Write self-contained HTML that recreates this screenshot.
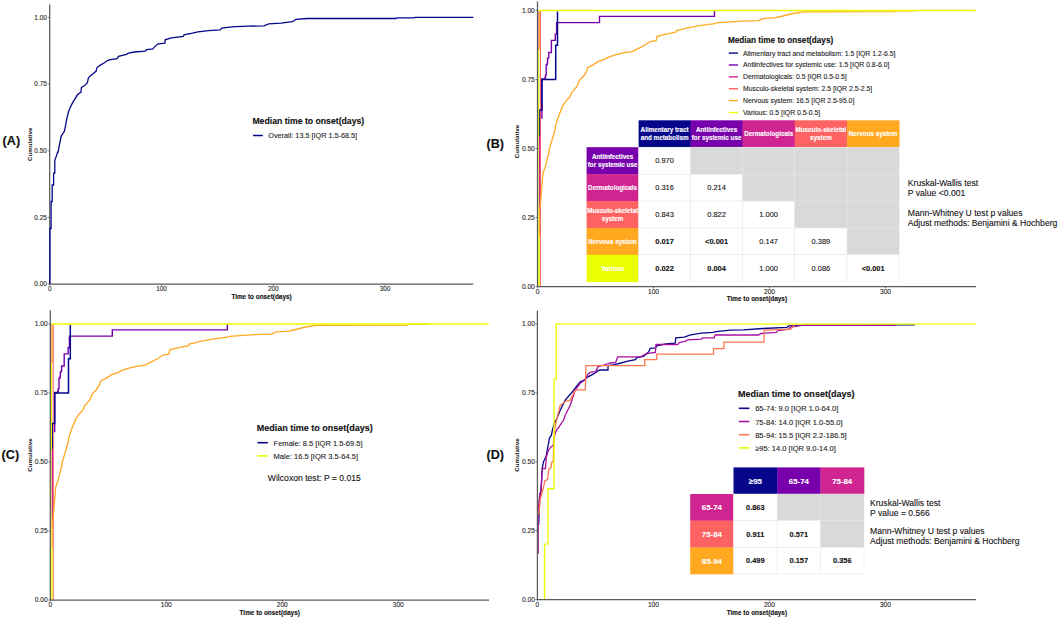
<!DOCTYPE html>
<html><head><meta charset="utf-8"><style>
html,body{margin:0;padding:0;background:#fff;}
svg{display:block;font-family:"Liberation Sans", sans-serif;}
</style></head><body>
<svg width="1059" height="618" viewBox="0 0 1059 618">
<rect width="1059" height="618" fill="#fff"/>
<line x1="49.7" y1="4.5" x2="49.7" y2="284" stroke="#5a5a5a" stroke-width="1.25"/>
<line x1="49.7" y1="284" x2="473.3" y2="284" stroke="#5a5a5a" stroke-width="1.25"/>
<line x1="47.7" y1="284.00" x2="49.7" y2="284.00" stroke="#5a5a5a" stroke-width="0.8"/>
<text x="46.80" y="286.30" font-size="6.4" text-anchor="end" fill="#1e1e1e" stroke="#1e1e1e" stroke-width="0.1">0.00</text>
<line x1="47.7" y1="217.38" x2="49.7" y2="217.38" stroke="#5a5a5a" stroke-width="0.8"/>
<text x="46.80" y="219.68" font-size="6.4" text-anchor="end" fill="#1e1e1e" stroke="#1e1e1e" stroke-width="0.1">0.25</text>
<line x1="47.7" y1="150.75" x2="49.7" y2="150.75" stroke="#5a5a5a" stroke-width="0.8"/>
<text x="46.80" y="153.05" font-size="6.4" text-anchor="end" fill="#1e1e1e" stroke="#1e1e1e" stroke-width="0.1">0.50</text>
<line x1="47.7" y1="84.12" x2="49.7" y2="84.12" stroke="#5a5a5a" stroke-width="0.8"/>
<text x="46.80" y="86.43" font-size="6.4" text-anchor="end" fill="#1e1e1e" stroke="#1e1e1e" stroke-width="0.1">0.75</text>
<line x1="47.7" y1="17.50" x2="49.7" y2="17.50" stroke="#5a5a5a" stroke-width="0.8"/>
<text x="46.80" y="19.80" font-size="6.4" text-anchor="end" fill="#1e1e1e" stroke="#1e1e1e" stroke-width="0.1">1.00</text>
<line x1="49.70" y1="284" x2="49.70" y2="285.8" stroke="#5a5a5a" stroke-width="0.8"/>
<text x="49.70" y="291.40" font-size="6.4" text-anchor="middle" fill="#1e1e1e" stroke="#1e1e1e" stroke-width="0.1">0</text>
<line x1="161.50" y1="284" x2="161.50" y2="285.8" stroke="#5a5a5a" stroke-width="0.8"/>
<text x="161.50" y="291.40" font-size="6.4" text-anchor="middle" fill="#1e1e1e" stroke="#1e1e1e" stroke-width="0.1">100</text>
<line x1="273.30" y1="284" x2="273.30" y2="285.8" stroke="#5a5a5a" stroke-width="0.8"/>
<text x="273.30" y="291.40" font-size="6.4" text-anchor="middle" fill="#1e1e1e" stroke="#1e1e1e" stroke-width="0.1">200</text>
<line x1="385.10" y1="284" x2="385.10" y2="285.8" stroke="#5a5a5a" stroke-width="0.8"/>
<text x="385.10" y="291.40" font-size="6.4" text-anchor="middle" fill="#1e1e1e" stroke="#1e1e1e" stroke-width="0.1">300</text>
<text transform="translate(31.9,144.3) rotate(-90)" font-size="6.2" font-weight="bold" text-anchor="middle" fill="#111">Cumulative</text>
<text x="261.50" y="298.50" font-size="6.4" font-weight="bold" text-anchor="middle" fill="#111" stroke="#111" stroke-width="0.12">Time to onset(days)</text>
<path d="M49.9 284.0 L49.9 228.5 L51.1 228.5 L51.1 201.5 L52.2 201.5 L52.2 185.0 L53.6 185.0 L53.6 173.2 L54.8 173.2 L54.8 160.3 L56.5 155.6 L57.6 152.1 L58.0 152.3 L59.6 144.2 L61.2 136.1 L62.8 133.7 L64.4 131.3 L65.7 124.8 L66.9 118.3 L68.5 111.8 L70.1 107.8 L72.5 102.9 L75.0 98.9 L77.4 94.8 L81.0 92.1 L81.4 87.5 L84.7 85.6 L87.4 82.7 L88.4 77.8 L92.0 74.6 L96.0 71.3 L97.1 67.3 L100.9 64.9 L104.0 63.0 L107.9 60.3 L111.9 59.4 L117.2 58.6 L118.5 56.4 L126.4 54.4 L128.4 53.1 L134.4 52.0 L145.0 51.1 L146.9 49.7 L152.9 48.8 L154.2 47.1 L158.2 43.8 L164.8 43.1 L165.2 39.8 L171.4 37.8 L183.3 36.5 L184.0 34.8 L192.5 33.2 L197.8 31.9 L208.4 30.6 L220.3 29.9 L221.6 28.2 L232.2 26.9 L235.7 26.6 L248.9 26.1 L264.0 25.9 L268.7 23.8 L281.0 23.2 L286.7 22.3 L292.3 21.7 L296.1 19.4 L307.4 18.5 L396.2 18.5 L397.1 17.9 L414.1 17.9 L415.1 17.3 L473.3 17.3" fill="none" stroke="#06068A" stroke-width="1.3" stroke-linejoin="miter" />
<text x="252.40" y="124.20" font-size="8.68" font-weight="bold" text-anchor="start" fill="#111" stroke="#111" stroke-width="0.12">Median time to onset(days)</text>
<line x1="253" y1="135.5" x2="262.8" y2="135.5" stroke="#06068A" stroke-width="1.5"/>
<text x="268.30" y="138.00" font-size="7.28" text-anchor="start" fill="#222" stroke="#222" stroke-width="0.1">Overall: 13.5 [IQR 1.5-68.5]</text>
<text x="2.60" y="145.20" font-size="12.6" font-weight="bold" text-anchor="start" fill="#111" stroke="#111" stroke-width="0.12">(A)</text>
<g>
<path d="M540.4 286.6 L540.4 10.4" fill="none" stroke="#FF6262" stroke-width="1.1" stroke-linejoin="miter" />
<path d="M541.9 118.7 L541.9 79.0 L544.9 79.0 L544.9 77.7 L545.5 77.7 L545.5 75.1 L546.2 75.1 L546.2 64.8 L547.1 64.8 L547.1 63.5 L547.5 63.5 L547.5 58.9 L548.1 58.9 L548.1 57.6 L548.8 57.6 L548.8 52.5 L551.4 52.5 L551.4 40.4 L555.3 40.4 L555.3 34.3 L556.6 34.3 L556.6 22.6 L599.5 22.6 L599.5 16.4 L714.5 16.4 L714.5 10.6" fill="none" stroke="#7800AC" stroke-width="1.4" stroke-linejoin="miter" />
<path d="M539.4 136.0 L539.4 110.0 L541.9 110.0 L541.9 79.4 L555.7 79.4 L555.7 45.3 L557.5 45.3 L557.5 11.5" fill="none" stroke="#06068A" stroke-width="1.5" stroke-linejoin="miter" />
<path d="M539.6 213.0 L539.6 136.0" fill="none" stroke="#D02590" stroke-width="1.5" stroke-linejoin="miter" />
<path d="M539.4 235.0 L539.4 213.0 L541.0 197.0 L541.7 187.9 L542.9 173.7 L545.5 165.9 L548.8 153.0 L549.5 148.6 L552.1 139.7 L554.8 130.8 L556.6 121.9 L559.2 114.8 L562.8 105.9 L566.4 100.5 L569.9 97.0 L571.7 92.5 L577.0 86.3 L579.7 80.1 L583.3 76.5 L586.8 71.2 L587.7 67.6 L593.1 64.9 L598.4 61.4 L603.8 59.6 L609.1 56.9 L616.2 54.6 L623.3 52.8 L632.2 51.6 L637.6 48.9 L645.1 45.0 L650.2 41.5 L656.1 40.7 L657.0 36.4 L663.8 34.7 L675.7 32.2 L676.5 30.5 L687.6 27.9 L701.2 25.4 L714.8 23.7 L716.5 22.8 L742.0 21.1 L759.0 20.6 L762.4 18.6 L776.0 17.7 L782.8 16.0 L793.0 13.5 L803.2 11.8 L895.0 11.6 L895.5 10.9 L914.8 10.9" fill="none" stroke="#FFA820" stroke-width="1.3" stroke-linejoin="miter" />
<path d="M537.9 286.6 L537.9 49.4" fill="none" stroke="#EAFF00" stroke-width="1.3" stroke-linejoin="miter" />
<path d="M539.2 286.6 L539.2 235.0" fill="none" stroke="#EAFF00" stroke-width="1.2" stroke-linejoin="miter" />
<path d="M538.7 136.0 L538.7 49.4" fill="none" stroke="#EAFF00" stroke-width="1.0" stroke-linejoin="miter" />
<path d="M537.9 49.4 L537.9 10.4" fill="none" stroke="#D02590" stroke-width="1.2" stroke-linejoin="miter" />
<path d="M539.3 49.4 L539.3 10.4" fill="none" stroke="#FFA820" stroke-width="1.2" stroke-linejoin="miter" />
<path d="M538.6 10.4 L975.8 10.4" fill="none" stroke="#EAFF00" stroke-width="1.5" stroke-linejoin="miter" />
</g>
<line x1="537.5" y1="1.6" x2="537.5" y2="286.6" stroke="#5a5a5a" stroke-width="1.25"/>
<line x1="537.5" y1="286.6" x2="976" y2="286.6" stroke="#5a5a5a" stroke-width="1.25"/>
<line x1="535.5" y1="286.60" x2="537.5" y2="286.60" stroke="#5a5a5a" stroke-width="0.8"/>
<text x="534.80" y="288.98" font-size="6.6" text-anchor="end" fill="#1e1e1e" stroke="#1e1e1e" stroke-width="0.1">0.00</text>
<line x1="535.5" y1="217.55" x2="537.5" y2="217.55" stroke="#5a5a5a" stroke-width="0.8"/>
<text x="534.80" y="219.93" font-size="6.6" text-anchor="end" fill="#1e1e1e" stroke="#1e1e1e" stroke-width="0.1">0.25</text>
<line x1="535.5" y1="148.50" x2="537.5" y2="148.50" stroke="#5a5a5a" stroke-width="0.8"/>
<text x="534.80" y="150.88" font-size="6.6" text-anchor="end" fill="#1e1e1e" stroke="#1e1e1e" stroke-width="0.1">0.50</text>
<line x1="535.5" y1="79.45" x2="537.5" y2="79.45" stroke="#5a5a5a" stroke-width="0.8"/>
<text x="534.80" y="81.83" font-size="6.6" text-anchor="end" fill="#1e1e1e" stroke="#1e1e1e" stroke-width="0.1">0.75</text>
<line x1="535.5" y1="10.40" x2="537.5" y2="10.40" stroke="#5a5a5a" stroke-width="0.8"/>
<text x="534.80" y="12.78" font-size="6.6" text-anchor="end" fill="#1e1e1e" stroke="#1e1e1e" stroke-width="0.1">1.00</text>
<line x1="537.50" y1="286.6" x2="537.50" y2="288.40000000000003" stroke="#5a5a5a" stroke-width="0.8"/>
<text x="537.50" y="293.80" font-size="6.6" text-anchor="middle" fill="#1e1e1e" stroke="#1e1e1e" stroke-width="0.1">0</text>
<line x1="653.50" y1="286.6" x2="653.50" y2="288.40000000000003" stroke="#5a5a5a" stroke-width="0.8"/>
<text x="653.50" y="293.80" font-size="6.6" text-anchor="middle" fill="#1e1e1e" stroke="#1e1e1e" stroke-width="0.1">100</text>
<line x1="769.50" y1="286.6" x2="769.50" y2="288.40000000000003" stroke="#5a5a5a" stroke-width="0.8"/>
<text x="769.50" y="293.80" font-size="6.6" text-anchor="middle" fill="#1e1e1e" stroke="#1e1e1e" stroke-width="0.1">200</text>
<line x1="885.50" y1="286.6" x2="885.50" y2="288.40000000000003" stroke="#5a5a5a" stroke-width="0.8"/>
<text x="885.50" y="293.80" font-size="6.6" text-anchor="middle" fill="#1e1e1e" stroke="#1e1e1e" stroke-width="0.1">300</text>
<text transform="translate(519.4,141.6) rotate(-90)" font-size="6.2" font-weight="bold" text-anchor="middle" fill="#111">Cumulative</text>
<text x="756.90" y="300.90" font-size="6.4" font-weight="bold" text-anchor="middle" fill="#111" stroke="#111" stroke-width="0.12">Time to onset(days)</text>
<text x="728.00" y="42.60" font-size="8.17" font-weight="bold" text-anchor="start" fill="#111" stroke="#111" stroke-width="0.12">Median time to onset(days)</text>
<line x1="728.8" y1="53.10" x2="738" y2="53.10" stroke="#06068A" stroke-width="1.4"/>
<text x="743.00" y="55.60" font-size="6.86" text-anchor="start" fill="#222" stroke="#222" stroke-width="0.1">Alimentary tract and metabolism: 1.5 [IQR 1.2-6.5]</text>
<line x1="728.8" y1="64.98" x2="738" y2="64.98" stroke="#7800AC" stroke-width="1.4"/>
<text x="743.00" y="67.48" font-size="6.86" text-anchor="start" fill="#222" stroke="#222" stroke-width="0.1">Antiinfectives for systemic use: 1.5 [IQR 0.8-6.0]</text>
<line x1="728.8" y1="76.86" x2="738" y2="76.86" stroke="#D02590" stroke-width="1.4"/>
<text x="743.00" y="79.36" font-size="6.86" text-anchor="start" fill="#222" stroke="#222" stroke-width="0.1">Dermatologicals: 0.5 [IQR 0.5-0.5]</text>
<line x1="728.8" y1="88.74" x2="738" y2="88.74" stroke="#FF6262" stroke-width="1.4"/>
<text x="743.00" y="91.24" font-size="6.86" text-anchor="start" fill="#222" stroke="#222" stroke-width="0.1">Musculo-skeletal system: 2.5 [IQR 2.5-2.5]</text>
<line x1="728.8" y1="100.62" x2="738" y2="100.62" stroke="#FFA820" stroke-width="1.4"/>
<text x="743.00" y="103.12" font-size="6.86" text-anchor="start" fill="#222" stroke="#222" stroke-width="0.1">Nervous system: 16.5 [IQR 2.5-95.0]</text>
<line x1="728.8" y1="112.50" x2="738" y2="112.50" stroke="#EAFF00" stroke-width="1.4"/>
<text x="743.00" y="115.00" font-size="6.86" text-anchor="start" fill="#222" stroke="#222" stroke-width="0.1">Various: 0.5 [IQR 0.5-0.5]</text>
<text x="486.50" y="148.00" font-size="12.6" font-weight="bold" text-anchor="start" fill="#111" stroke="#111" stroke-width="0.12">(B)</text>
<rect x="638.6" y="120.3" width="52.30" height="26.90" fill="#06068A"/>
<text x="664.60" y="132.11" font-size="6.3" font-weight="bold" text-anchor="middle" fill="#fff" stroke="#fff" stroke-width="0.12">Alimentary tract</text>
<text x="664.60" y="139.81" font-size="6.3" font-weight="bold" text-anchor="middle" fill="#fff" stroke="#fff" stroke-width="0.12">and metabolism</text>
<rect x="690.6" y="120.3" width="52.30" height="26.90" fill="#7800AC"/>
<text x="716.60" y="132.11" font-size="6.3" font-weight="bold" text-anchor="middle" fill="#fff" stroke="#fff" stroke-width="0.12">Antiinfectives</text>
<text x="716.60" y="139.81" font-size="6.3" font-weight="bold" text-anchor="middle" fill="#fff" stroke="#fff" stroke-width="0.12">for systemic use</text>
<rect x="742.6" y="120.3" width="52.40" height="26.90" fill="#D02590"/>
<text x="768.65" y="135.96" font-size="6.3" font-weight="bold" text-anchor="middle" fill="#fff" stroke="#fff" stroke-width="0.12">Dermatologicals</text>
<rect x="794.7" y="120.3" width="52.70" height="26.90" fill="#FF6262"/>
<text x="820.90" y="132.11" font-size="6.3" font-weight="bold" text-anchor="middle" fill="#fff" stroke="#fff" stroke-width="0.12">Musculo-skeletal</text>
<text x="820.90" y="139.81" font-size="6.3" font-weight="bold" text-anchor="middle" fill="#fff" stroke="#fff" stroke-width="0.12">system</text>
<rect x="847.1" y="120.3" width="52.40" height="26.90" fill="#FFA820"/>
<text x="873.15" y="135.96" font-size="6.3" font-weight="bold" text-anchor="middle" fill="#fff" stroke="#fff" stroke-width="0.12">Nervous system</text>
<rect x="586.6" y="147.2" width="52.00" height="27.30" fill="#7800AC"/>
<text x="612.60" y="159.06" font-size="6.3" font-weight="bold" text-anchor="middle" fill="#fff" stroke="#fff" stroke-width="0.12">Antiinfectives</text>
<text x="612.60" y="166.75" font-size="6.3" font-weight="bold" text-anchor="middle" fill="#fff" stroke="#fff" stroke-width="0.12">for systemic use</text>
<rect x="638.6" y="147.2" width="52.00" height="27.00" fill="#fff" stroke="#E6E6E6" stroke-width="0.5"/>
<text x="664.60" y="163.30" font-size="7.45" text-anchor="middle" fill="#111" stroke="#111" stroke-width="0.1">0.970</text>
<rect x="690.6" y="147.2" width="52.00" height="27.00" fill="#D9D9D9" stroke="#E6E6E6" stroke-width="0.5"/>
<rect x="742.6" y="147.2" width="52.10" height="27.00" fill="#D9D9D9" stroke="#E6E6E6" stroke-width="0.5"/>
<rect x="794.7" y="147.2" width="52.40" height="27.00" fill="#D9D9D9" stroke="#E6E6E6" stroke-width="0.5"/>
<rect x="847.1" y="147.2" width="52.10" height="27.00" fill="#D9D9D9" stroke="#E6E6E6" stroke-width="0.5"/>
<rect x="586.6" y="174.2" width="52.00" height="27.20" fill="#D02590"/>
<text x="612.60" y="189.85" font-size="6.3" font-weight="bold" text-anchor="middle" fill="#fff" stroke="#fff" stroke-width="0.12">Dermatologicals</text>
<rect x="638.6" y="174.2" width="52.00" height="26.90" fill="#fff" stroke="#E6E6E6" stroke-width="0.5"/>
<text x="664.60" y="190.25" font-size="7.45" text-anchor="middle" fill="#111" stroke="#111" stroke-width="0.1">0.316</text>
<rect x="690.6" y="174.2" width="52.00" height="26.90" fill="#fff" stroke="#E6E6E6" stroke-width="0.5"/>
<text x="716.60" y="190.25" font-size="7.45" text-anchor="middle" fill="#111" stroke="#111" stroke-width="0.1">0.214</text>
<rect x="742.6" y="174.2" width="52.10" height="26.90" fill="#D9D9D9" stroke="#E6E6E6" stroke-width="0.5"/>
<rect x="794.7" y="174.2" width="52.40" height="26.90" fill="#D9D9D9" stroke="#E6E6E6" stroke-width="0.5"/>
<rect x="847.1" y="174.2" width="52.10" height="26.90" fill="#D9D9D9" stroke="#E6E6E6" stroke-width="0.5"/>
<rect x="586.6" y="201.1" width="52.00" height="27.20" fill="#FF6262"/>
<text x="612.60" y="212.91" font-size="6.3" font-weight="bold" text-anchor="middle" fill="#fff" stroke="#fff" stroke-width="0.12">Musculo-skeletal</text>
<text x="612.60" y="220.61" font-size="6.3" font-weight="bold" text-anchor="middle" fill="#fff" stroke="#fff" stroke-width="0.12">system</text>
<rect x="638.6" y="201.1" width="52.00" height="26.90" fill="#fff" stroke="#E6E6E6" stroke-width="0.5"/>
<text x="664.60" y="217.15" font-size="7.45" text-anchor="middle" fill="#111" stroke="#111" stroke-width="0.1">0.843</text>
<rect x="690.6" y="201.1" width="52.00" height="26.90" fill="#fff" stroke="#E6E6E6" stroke-width="0.5"/>
<text x="716.60" y="217.15" font-size="7.45" text-anchor="middle" fill="#111" stroke="#111" stroke-width="0.1">0.822</text>
<rect x="742.6" y="201.1" width="52.10" height="26.90" fill="#fff" stroke="#E6E6E6" stroke-width="0.5"/>
<text x="768.65" y="217.15" font-size="7.45" text-anchor="middle" fill="#111" stroke="#111" stroke-width="0.1">1.000</text>
<rect x="794.7" y="201.1" width="52.40" height="26.90" fill="#D9D9D9" stroke="#E6E6E6" stroke-width="0.5"/>
<rect x="847.1" y="201.1" width="52.10" height="26.90" fill="#D9D9D9" stroke="#E6E6E6" stroke-width="0.5"/>
<rect x="586.6" y="228.0" width="52.00" height="27.10" fill="#FFA820"/>
<text x="612.60" y="243.61" font-size="6.3" font-weight="bold" text-anchor="middle" fill="#fff" stroke="#fff" stroke-width="0.12">Nervous system</text>
<rect x="638.6" y="228.0" width="52.00" height="26.80" fill="#fff" stroke="#E6E6E6" stroke-width="0.5"/>
<text x="664.60" y="244.00" font-size="7.45" font-weight="bold" text-anchor="middle" fill="#111" stroke="#111" stroke-width="0.12">0.017</text>
<rect x="690.6" y="228.0" width="52.00" height="26.80" fill="#fff" stroke="#E6E6E6" stroke-width="0.5"/>
<text x="716.60" y="244.00" font-size="7.45" font-weight="bold" text-anchor="middle" fill="#111" stroke="#111" stroke-width="0.12">&lt;0.001</text>
<rect x="742.6" y="228.0" width="52.10" height="26.80" fill="#fff" stroke="#E6E6E6" stroke-width="0.5"/>
<text x="768.65" y="244.00" font-size="7.45" text-anchor="middle" fill="#111" stroke="#111" stroke-width="0.1">0.147</text>
<rect x="794.7" y="228.0" width="52.40" height="26.80" fill="#fff" stroke="#E6E6E6" stroke-width="0.5"/>
<text x="820.90" y="244.00" font-size="7.45" text-anchor="middle" fill="#111" stroke="#111" stroke-width="0.1">0.389</text>
<rect x="847.1" y="228.0" width="52.10" height="26.80" fill="#D9D9D9" stroke="#E6E6E6" stroke-width="0.5"/>
<rect x="586.6" y="254.8" width="52.00" height="27.30" fill="#EAFF00"/>
<text x="612.60" y="270.50" font-size="6.3" font-weight="bold" text-anchor="middle" fill="#fff" stroke="#fff" stroke-width="0.12">Various</text>
<rect x="638.6" y="254.8" width="52.00" height="27.00" fill="#fff" stroke="#E6E6E6" stroke-width="0.5"/>
<text x="664.60" y="270.90" font-size="7.45" font-weight="bold" text-anchor="middle" fill="#111" stroke="#111" stroke-width="0.12">0.022</text>
<rect x="690.6" y="254.8" width="52.00" height="27.00" fill="#fff" stroke="#E6E6E6" stroke-width="0.5"/>
<text x="716.60" y="270.90" font-size="7.45" font-weight="bold" text-anchor="middle" fill="#111" stroke="#111" stroke-width="0.12">0.004</text>
<rect x="742.6" y="254.8" width="52.10" height="27.00" fill="#fff" stroke="#E6E6E6" stroke-width="0.5"/>
<text x="768.65" y="270.90" font-size="7.45" text-anchor="middle" fill="#111" stroke="#111" stroke-width="0.1">1.000</text>
<rect x="794.7" y="254.8" width="52.40" height="27.00" fill="#fff" stroke="#E6E6E6" stroke-width="0.5"/>
<text x="820.90" y="270.90" font-size="7.45" text-anchor="middle" fill="#111" stroke="#111" stroke-width="0.1">0.086</text>
<rect x="847.1" y="254.8" width="52.10" height="27.00" fill="#fff" stroke="#E6E6E6" stroke-width="0.5"/>
<text x="873.15" y="270.90" font-size="7.45" font-weight="bold" text-anchor="middle" fill="#111" stroke="#111" stroke-width="0.12">&lt;0.001</text>
<text x="907.80" y="186.20" font-size="8.6" text-anchor="start" fill="#111" stroke="#111" stroke-width="0.1">Kruskal-Wallis test</text>
<text x="907.80" y="195.60" font-size="8.6" text-anchor="start" fill="#111" stroke="#111" stroke-width="0.1">P value &lt;0.001</text>
<text x="907.80" y="216.20" font-size="8.6" text-anchor="start" fill="#111" stroke="#111" stroke-width="0.1">Mann-Whitney U test p values</text>
<text x="907.80" y="225.60" font-size="8.6" text-anchor="start" fill="#111" stroke="#111" stroke-width="0.1">Adjust methods: Benjamini &amp; Hochberg</text>
<g transform="translate(-487.2,313.5)">
<path d="M540.4 286.6 L540.4 10.4" fill="none" stroke="#FF6262" stroke-width="1.1" stroke-linejoin="miter" />
<path d="M541.9 118.7 L541.9 79.0 L544.9 79.0 L544.9 77.7 L545.5 77.7 L545.5 75.1 L546.2 75.1 L546.2 64.8 L547.1 64.8 L547.1 63.5 L547.5 63.5 L547.5 58.9 L548.1 58.9 L548.1 57.6 L548.8 57.6 L548.8 52.5 L551.4 52.5 L551.4 40.4 L555.3 40.4 L555.3 34.3 L556.6 34.3 L556.6 22.6 L599.5 22.6 L599.5 16.4 L714.5 16.4 L714.5 10.6" fill="none" stroke="#7800AC" stroke-width="1.4" stroke-linejoin="miter" />
<path d="M539.4 136.0 L539.4 110.0 L541.9 110.0 L541.9 79.4 L555.7 79.4 L555.7 45.3 L557.5 45.3 L557.5 11.5" fill="none" stroke="#06068A" stroke-width="1.5" stroke-linejoin="miter" />
<path d="M539.6 213.0 L539.6 136.0" fill="none" stroke="#D02590" stroke-width="1.5" stroke-linejoin="miter" />
<path d="M539.4 235.0 L539.4 213.0 L541.0 197.0 L541.7 187.9 L542.9 173.7 L545.5 165.9 L548.8 153.0 L549.5 148.6 L552.1 139.7 L554.8 130.8 L556.6 121.9 L559.2 114.8 L562.8 105.9 L566.4 100.5 L569.9 97.0 L571.7 92.5 L577.0 86.3 L579.7 80.1 L583.3 76.5 L586.8 71.2 L587.7 67.6 L593.1 64.9 L598.4 61.4 L603.8 59.6 L609.1 56.9 L616.2 54.6 L623.3 52.8 L632.2 51.6 L637.6 48.9 L645.1 45.0 L650.2 41.5 L656.1 40.7 L657.0 36.4 L663.8 34.7 L675.7 32.2 L676.5 30.5 L687.6 27.9 L701.2 25.4 L714.8 23.7 L716.5 22.8 L742.0 21.1 L759.0 20.6 L762.4 18.6 L776.0 17.7 L782.8 16.0 L793.0 13.5 L803.2 11.8 L895.0 11.6 L895.5 10.9 L914.8 10.9" fill="none" stroke="#FFA820" stroke-width="1.3" stroke-linejoin="miter" />
<path d="M537.9 286.6 L537.9 49.4" fill="none" stroke="#EAFF00" stroke-width="1.3" stroke-linejoin="miter" />
<path d="M539.2 286.6 L539.2 235.0" fill="none" stroke="#EAFF00" stroke-width="1.2" stroke-linejoin="miter" />
<path d="M538.7 136.0 L538.7 49.4" fill="none" stroke="#EAFF00" stroke-width="1.0" stroke-linejoin="miter" />
<path d="M537.9 49.4 L537.9 10.4" fill="none" stroke="#D02590" stroke-width="1.2" stroke-linejoin="miter" />
<path d="M539.3 49.4 L539.3 10.4" fill="none" stroke="#FFA820" stroke-width="1.2" stroke-linejoin="miter" />
<path d="M538.6 10.4 L975.8 10.4" fill="none" stroke="#EAFF00" stroke-width="1.5" stroke-linejoin="miter" />
</g>
<line x1="50.3" y1="310.2" x2="50.3" y2="600" stroke="#5a5a5a" stroke-width="1.25"/>
<line x1="50.3" y1="600" x2="489" y2="600" stroke="#5a5a5a" stroke-width="1.25"/>
<line x1="48.3" y1="600.00" x2="50.3" y2="600.00" stroke="#5a5a5a" stroke-width="0.8"/>
<text x="47.60" y="602.38" font-size="6.6" text-anchor="end" fill="#1e1e1e" stroke="#1e1e1e" stroke-width="0.1">0.00</text>
<line x1="48.3" y1="531.02" x2="50.3" y2="531.02" stroke="#5a5a5a" stroke-width="0.8"/>
<text x="47.60" y="533.40" font-size="6.6" text-anchor="end" fill="#1e1e1e" stroke="#1e1e1e" stroke-width="0.1">0.25</text>
<line x1="48.3" y1="462.05" x2="50.3" y2="462.05" stroke="#5a5a5a" stroke-width="0.8"/>
<text x="47.60" y="464.43" font-size="6.6" text-anchor="end" fill="#1e1e1e" stroke="#1e1e1e" stroke-width="0.1">0.50</text>
<line x1="48.3" y1="393.08" x2="50.3" y2="393.08" stroke="#5a5a5a" stroke-width="0.8"/>
<text x="47.60" y="395.45" font-size="6.6" text-anchor="end" fill="#1e1e1e" stroke="#1e1e1e" stroke-width="0.1">0.75</text>
<line x1="48.3" y1="324.10" x2="50.3" y2="324.10" stroke="#5a5a5a" stroke-width="0.8"/>
<text x="47.60" y="326.48" font-size="6.6" text-anchor="end" fill="#1e1e1e" stroke="#1e1e1e" stroke-width="0.1">1.00</text>
<line x1="50.30" y1="600" x2="50.30" y2="601.8" stroke="#5a5a5a" stroke-width="0.8"/>
<text x="50.30" y="607.20" font-size="6.6" text-anchor="middle" fill="#1e1e1e" stroke="#1e1e1e" stroke-width="0.1">0</text>
<line x1="166.30" y1="600" x2="166.30" y2="601.8" stroke="#5a5a5a" stroke-width="0.8"/>
<text x="166.30" y="607.20" font-size="6.6" text-anchor="middle" fill="#1e1e1e" stroke="#1e1e1e" stroke-width="0.1">100</text>
<line x1="282.30" y1="600" x2="282.30" y2="601.8" stroke="#5a5a5a" stroke-width="0.8"/>
<text x="282.30" y="607.20" font-size="6.6" text-anchor="middle" fill="#1e1e1e" stroke="#1e1e1e" stroke-width="0.1">200</text>
<line x1="398.30" y1="600" x2="398.30" y2="601.8" stroke="#5a5a5a" stroke-width="0.8"/>
<text x="398.30" y="607.20" font-size="6.6" text-anchor="middle" fill="#1e1e1e" stroke="#1e1e1e" stroke-width="0.1">300</text>
<text transform="translate(32.0,455.1) rotate(-90)" font-size="6.2" font-weight="bold" text-anchor="middle" fill="#111">Cumulative</text>
<text x="269.70" y="614.80" font-size="6.4" font-weight="bold" text-anchor="middle" fill="#111" stroke="#111" stroke-width="0.12">Time to onset(days)</text>
<text x="256.80" y="431.30" font-size="9.0" font-weight="bold" text-anchor="start" fill="#111" stroke="#111" stroke-width="0.12">Median time to onset(days)</text>
<line x1="257.4" y1="442.70" x2="267.8" y2="442.70" stroke="#06068A" stroke-width="1.6"/>
<text x="273.60" y="445.80" font-size="7.52" text-anchor="start" fill="#222" stroke="#222" stroke-width="0.1">Female: 8.5 [IQR 1.5-69.5]</text>
<line x1="257.4" y1="455.90" x2="267.8" y2="455.90" stroke="#EAFF00" stroke-width="1.6"/>
<text x="273.60" y="459.00" font-size="7.52" text-anchor="start" fill="#222" stroke="#222" stroke-width="0.1">Male: 16.5 [IQR 3.5-64.5]</text>
<text x="267.80" y="481.40" font-size="8.64" text-anchor="start" fill="#111" stroke="#111" stroke-width="0.1">Wilcoxon test: P = 0.015</text>
<text x="1.60" y="459.40" font-size="12.6" font-weight="bold" text-anchor="start" fill="#111" stroke="#111" stroke-width="0.12">(C)</text>
<path d="M538.6 525.0 L539.4 507.8 L539.7 493.7 L540.7 494.6 L542.3 467.8 L543.6 461.4 L546.2 456.2 L547.5 448.4 L548.8 442.0 L549.4 438.1 L551.3 435.5 L552.6 429.1 L553.9 425.2 L555.2 420.0 L555.2 422.8 L560.2 410.3 L565.2 400.2 L572.7 391.5 L576.5 386.5 L580.0 382.1 L584.0 380.2 L587.9 376.8 L593.2 374.2 L597.8 370.9 L599.8 370.0 L608.0 370.0 L608.0 365.6 L614.4 364.7 L621.0 363.0 L627.6 361.2 L635.5 359.7 L636.8 357.7 L643.5 356.4 L648.7 351.7 L650.1 348.4 L655.4 347.8 L656.7 345.8 L665.9 343.8 L675.2 343.1 L675.8 337.8 L684.4 337.2 L689.7 335.2 L693.7 334.3 L701.6 333.2 L713.0 332.4 L716.2 331.6 L730.4 330.2 L743.4 329.8 L763.0 328.5 L786.9 327.4 L789.0 325.9 L804.3 325.2 L915.0 324.8" fill="none" stroke="#06068A" stroke-width="1.3" stroke-linejoin="miter" />
<path d="M538.2 553.8 L538.2 511.0 L539.8 493.6 L540.3 497.6 L541.6 482.1 L542.3 468.5 L545.5 468.5 L546.2 457.5 L548.1 451.0 L550.7 447.2 L553.3 445.2 L553.9 439.4 L555.2 432.9 L557.2 429.1 L558.4 427.8 L561.0 423.9 L563.6 420.0 L565.2 415.3 L570.2 405.3 L575.2 390.2 L580.0 383.5 L585.3 379.5 L587.9 374.2 L590.6 372.2 L595.9 371.6 L597.8 366.9 L603.8 365.0 L610.4 363.0 L615.7 362.3 L617.7 356.8 L640.8 356.8 L644.8 354.4 L649.4 353.1 L655.4 352.4 L656.0 344.5 L677.8 344.5 L679.2 342.5 L685.8 341.2 L687.1 339.8 L701.6 339.2 L702.3 337.8 L714.1 337.8 L715.2 335.0 L758.6 335.0 L760.8 333.5 L776.0 332.4 L778.2 330.6 L789.0 329.1 L790.1 327.0 L802.1 325.4 L895.5 325.4" fill="none" stroke="#A5109F" stroke-width="1.3" stroke-linejoin="miter" />
<path d="M538.8 515.0 L540.3 498.9 L542.9 489.8 L544.9 480.8 L547.5 479.5 L548.8 469.1 L550.7 467.8 L552.0 462.0 L553.3 461.4 L553.9 438.1 L554.6 430.3 L555.9 422.6 L560.2 405.3 L565.2 401.5 L570.2 400.2 L575.2 390.2 L580.0 389.8 L585.3 389.8 L585.9 365.6 L644.8 365.6 L644.8 359.7 L656.7 359.7 L656.7 354.1 L713.5 354.1 L713.5 348.7 L723.9 348.7 L723.9 342.2 L764.1 342.2 L764.1 330.2 L791.2 329.1 L793.4 325.9 L794.5 324.8" fill="none" stroke="#FF7850" stroke-width="1.3" stroke-linejoin="miter" />
<path d="M544.6 599.5 L544.6 544.1 L547.9 544.1 L547.9 488.7 L554.1 488.7 L554.1 379.1 L556.2 379.1 L556.2 324.1 L976.0 324.1" fill="none" stroke="#EAFF00" stroke-width="1.4" stroke-linejoin="miter" />
<line x1="537.4" y1="310.5" x2="537.4" y2="599.5" stroke="#5a5a5a" stroke-width="1.25"/>
<line x1="537.4" y1="599.5" x2="976" y2="599.5" stroke="#5a5a5a" stroke-width="1.25"/>
<line x1="535.4" y1="599.50" x2="537.4" y2="599.50" stroke="#5a5a5a" stroke-width="0.8"/>
<text x="534.90" y="601.88" font-size="6.6" text-anchor="end" fill="#1e1e1e" stroke="#1e1e1e" stroke-width="0.1">0.00</text>
<line x1="535.4" y1="530.65" x2="537.4" y2="530.65" stroke="#5a5a5a" stroke-width="0.8"/>
<text x="534.90" y="533.03" font-size="6.6" text-anchor="end" fill="#1e1e1e" stroke="#1e1e1e" stroke-width="0.1">0.25</text>
<line x1="535.4" y1="461.80" x2="537.4" y2="461.80" stroke="#5a5a5a" stroke-width="0.8"/>
<text x="534.90" y="464.18" font-size="6.6" text-anchor="end" fill="#1e1e1e" stroke="#1e1e1e" stroke-width="0.1">0.50</text>
<line x1="535.4" y1="392.95" x2="537.4" y2="392.95" stroke="#5a5a5a" stroke-width="0.8"/>
<text x="534.90" y="395.33" font-size="6.6" text-anchor="end" fill="#1e1e1e" stroke="#1e1e1e" stroke-width="0.1">0.75</text>
<line x1="535.4" y1="324.10" x2="537.4" y2="324.10" stroke="#5a5a5a" stroke-width="0.8"/>
<text x="534.90" y="326.48" font-size="6.6" text-anchor="end" fill="#1e1e1e" stroke="#1e1e1e" stroke-width="0.1">1.00</text>
<line x1="537.40" y1="599.5" x2="537.40" y2="601.3" stroke="#5a5a5a" stroke-width="0.8"/>
<text x="537.40" y="607.00" font-size="6.6" text-anchor="middle" fill="#1e1e1e" stroke="#1e1e1e" stroke-width="0.1">0</text>
<line x1="653.40" y1="599.5" x2="653.40" y2="601.3" stroke="#5a5a5a" stroke-width="0.8"/>
<text x="653.40" y="607.00" font-size="6.6" text-anchor="middle" fill="#1e1e1e" stroke="#1e1e1e" stroke-width="0.1">100</text>
<line x1="769.40" y1="599.5" x2="769.40" y2="601.3" stroke="#5a5a5a" stroke-width="0.8"/>
<text x="769.40" y="607.00" font-size="6.6" text-anchor="middle" fill="#1e1e1e" stroke="#1e1e1e" stroke-width="0.1">200</text>
<line x1="885.40" y1="599.5" x2="885.40" y2="601.3" stroke="#5a5a5a" stroke-width="0.8"/>
<text x="885.40" y="607.00" font-size="6.6" text-anchor="middle" fill="#1e1e1e" stroke="#1e1e1e" stroke-width="0.1">300</text>
<text transform="translate(519.4,455.0) rotate(-90)" font-size="6.2" font-weight="bold" text-anchor="middle" fill="#111">Cumulative</text>
<text x="756.90" y="614.80" font-size="6.4" font-weight="bold" text-anchor="middle" fill="#111" stroke="#111" stroke-width="0.12">Time to onset(days)</text>
<text x="738.00" y="396.70" font-size="9.05" font-weight="bold" text-anchor="start" fill="#111" stroke="#111" stroke-width="0.12">Median time to onset(days)</text>
<line x1="738.8" y1="408.30" x2="749.4" y2="408.30" stroke="#06068A" stroke-width="1.6"/>
<text x="755.20" y="411.40" font-size="7.52" text-anchor="start" fill="#222" stroke="#222" stroke-width="0.1">65-74: 9.0 [IQR 1.0-64.0]</text>
<line x1="738.8" y1="421.50" x2="749.4" y2="421.50" stroke="#A5109F" stroke-width="1.6"/>
<text x="755.20" y="424.60" font-size="7.52" text-anchor="start" fill="#222" stroke="#222" stroke-width="0.1">75-84: 14.0 [IQR 1.0-55.0]</text>
<line x1="738.8" y1="434.70" x2="749.4" y2="434.70" stroke="#FF7850" stroke-width="1.6"/>
<text x="755.20" y="437.80" font-size="7.52" text-anchor="start" fill="#222" stroke="#222" stroke-width="0.1">85-94: 15.5 [IQR 2.2-186.5]</text>
<line x1="738.8" y1="447.90" x2="749.4" y2="447.90" stroke="#EAFF00" stroke-width="1.6"/>
<text x="755.20" y="451.00" font-size="7.52" text-anchor="start" fill="#222" stroke="#222" stroke-width="0.1">≥95: 14.0 [IQR 9.0-14.0]</text>
<text x="486.50" y="459.10" font-size="12.6" font-weight="bold" text-anchor="start" fill="#111" stroke="#111" stroke-width="0.12">(D)</text>
<rect x="733.5" y="467.4" width="44.00" height="26.60" fill="#06068A"/>
<text x="755.35" y="483.50" font-size="7.8" font-weight="bold" text-anchor="middle" fill="#fff" stroke="#fff" stroke-width="0.12">≥95</text>
<rect x="777.2" y="467.4" width="43.60" height="26.60" fill="#7800AC"/>
<text x="798.85" y="483.50" font-size="7.8" font-weight="bold" text-anchor="middle" fill="#fff" stroke="#fff" stroke-width="0.12">65-74</text>
<rect x="820.5" y="467.4" width="43.80" height="26.60" fill="#D02590"/>
<text x="842.25" y="483.50" font-size="7.8" font-weight="bold" text-anchor="middle" fill="#fff" stroke="#fff" stroke-width="0.12">75-84</text>
<rect x="690.2" y="494.0" width="43.30" height="26.90" fill="#D02590"/>
<text x="711.85" y="510.10" font-size="7.8" font-weight="bold" text-anchor="middle" fill="#fff" stroke="#fff" stroke-width="0.12">65-74</text>
<rect x="733.5" y="494.0" width="43.70" height="26.60" fill="#fff" stroke="#E6E6E6" stroke-width="0.5"/>
<text x="755.35" y="510.00" font-size="7.4" font-weight="bold" text-anchor="middle" fill="#111" stroke="#111" stroke-width="0.12">0.863</text>
<rect x="777.2" y="494.0" width="43.30" height="26.60" fill="#D9D9D9" stroke="#E6E6E6" stroke-width="0.5"/>
<rect x="820.5" y="494.0" width="43.50" height="26.60" fill="#D9D9D9" stroke="#E6E6E6" stroke-width="0.5"/>
<rect x="690.2" y="520.6" width="43.30" height="27.10" fill="#FF6262"/>
<text x="711.85" y="536.80" font-size="7.8" font-weight="bold" text-anchor="middle" fill="#fff" stroke="#fff" stroke-width="0.12">75-84</text>
<rect x="733.5" y="520.6" width="43.70" height="26.80" fill="#fff" stroke="#E6E6E6" stroke-width="0.5"/>
<text x="755.35" y="536.70" font-size="7.4" font-weight="bold" text-anchor="middle" fill="#111" stroke="#111" stroke-width="0.12">0.911</text>
<rect x="777.2" y="520.6" width="43.30" height="26.80" fill="#fff" stroke="#E6E6E6" stroke-width="0.5"/>
<text x="798.85" y="536.70" font-size="7.4" font-weight="bold" text-anchor="middle" fill="#111" stroke="#111" stroke-width="0.12">0.571</text>
<rect x="820.5" y="520.6" width="43.50" height="26.80" fill="#D9D9D9" stroke="#E6E6E6" stroke-width="0.5"/>
<rect x="690.2" y="547.4" width="43.30" height="26.90" fill="#FFA820"/>
<text x="711.85" y="563.50" font-size="7.8" font-weight="bold" text-anchor="middle" fill="#fff" stroke="#fff" stroke-width="0.12">85-94</text>
<rect x="733.5" y="547.4" width="43.70" height="26.60" fill="#fff" stroke="#E6E6E6" stroke-width="0.5"/>
<text x="755.35" y="563.40" font-size="7.4" font-weight="bold" text-anchor="middle" fill="#111" stroke="#111" stroke-width="0.12">0.499</text>
<rect x="777.2" y="547.4" width="43.30" height="26.60" fill="#fff" stroke="#E6E6E6" stroke-width="0.5"/>
<text x="798.85" y="563.40" font-size="7.4" font-weight="bold" text-anchor="middle" fill="#111" stroke="#111" stroke-width="0.12">0.157</text>
<rect x="820.5" y="547.4" width="43.50" height="26.60" fill="#fff" stroke="#E6E6E6" stroke-width="0.5"/>
<text x="842.25" y="563.40" font-size="7.4" font-weight="bold" text-anchor="middle" fill="#111" stroke="#111" stroke-width="0.12">0.356</text>
<text x="870.00" y="506.10" font-size="8.6" text-anchor="start" fill="#111" stroke="#111" stroke-width="0.1">Kruskal-Wallis test</text>
<text x="870.00" y="515.70" font-size="8.6" text-anchor="start" fill="#111" stroke="#111" stroke-width="0.1">P value = 0.566</text>
<text x="870.00" y="534.10" font-size="8.6" text-anchor="start" fill="#111" stroke="#111" stroke-width="0.1">Mann-Whitney U test p values</text>
<text x="870.00" y="543.50" font-size="8.6" text-anchor="start" fill="#111" stroke="#111" stroke-width="0.1">Adjust methods: Benjamini &amp; Hochberg</text>
</svg></body></html>
